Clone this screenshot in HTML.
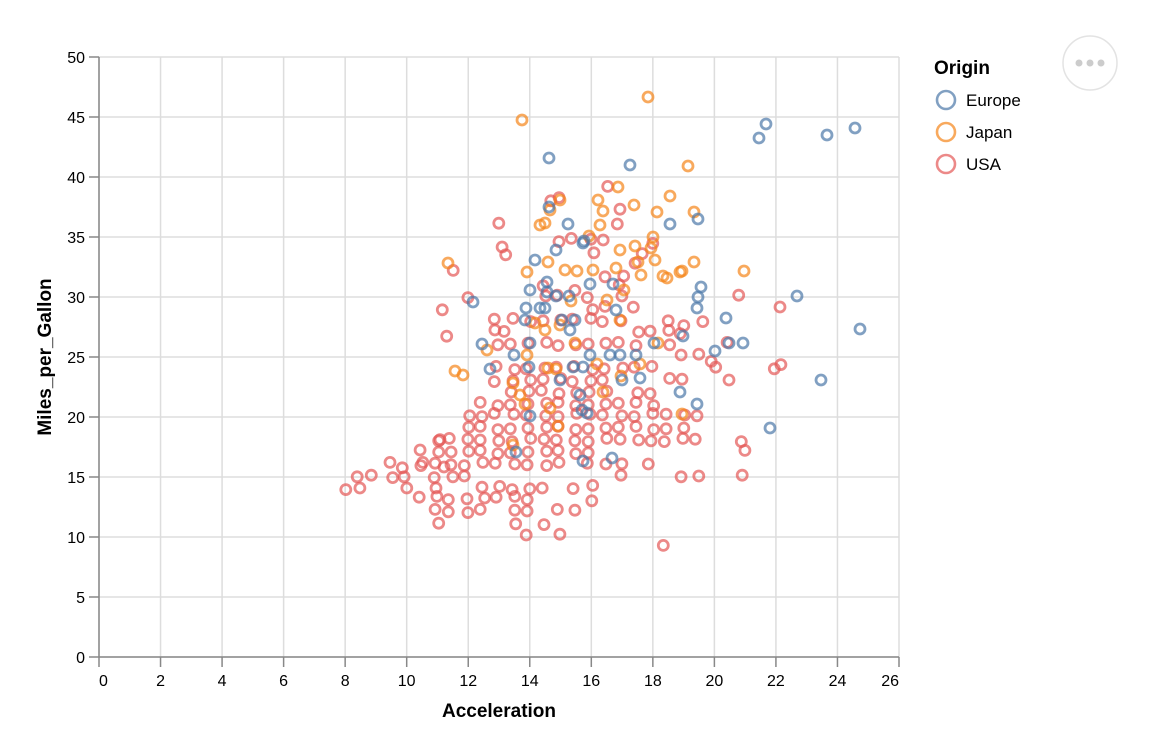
<!DOCTYPE html>
<html><head><meta charset="utf-8"><style>
body{margin:0;background:#fff;width:1150px;height:734px;overflow:hidden;font-family:"Liberation Sans",Arial,sans-serif}
</style></head><body>
<svg id="s" width="1150" height="734" xmlns="http://www.w3.org/2000/svg" font-family="Liberation Sans, Arial, sans-serif">
<rect width="1150" height="734" fill="#fff"/>
<g id="grid" stroke="#ddd" stroke-width="1.5"></g>
<g id="axes"></g>
<g id="pts" fill="none" stroke-width="2.8" stroke-opacity="0.7"></g>
<text x="499" y="717" font-size="19" font-weight="bold" text-anchor="middle">Acceleration</text>
<text transform="translate(51,357) rotate(-90)" font-size="19" font-weight="bold" text-anchor="middle">Miles_per_Gallon</text>
<text x="934" y="74" font-size="19" font-weight="bold">Origin</text>
<circle cx="946" cy="100" r="9" fill="none" stroke="#4c78a8" stroke-width="2.6" stroke-opacity="0.7"/>
<circle cx="946" cy="132" r="9" fill="none" stroke="#f58518" stroke-width="2.6" stroke-opacity="0.7"/>
<circle cx="946" cy="164" r="9" fill="none" stroke="#e45756" stroke-width="2.6" stroke-opacity="0.7"/>
<text x="966" y="106" font-size="17">Europe</text>
<text x="966" y="138" font-size="17">Japan</text>
<text x="966" y="170" font-size="17">USA</text>
<circle cx="1090" cy="63" r="27" fill="#fff" stroke="#e3e3e3" stroke-width="1.5"/>
<circle cx="1079" cy="63" r="3.5" fill="#ccc"/><circle cx="1090" cy="63" r="3.5" fill="#ccc"/><circle cx="1101" cy="63" r="3.5" fill="#ccc"/>
</svg>
<script>
var ns="http://www.w3.org/2000/svg";
function el(p,t,a,txt){var e=document.createElementNS(ns,t);for(var k in a)e.setAttribute(k,a[k]);if(txt!=null)e.textContent=txt;p.appendChild(e);return e;}
var g=document.getElementById("grid"),ax=document.getElementById("axes"),P=document.getElementById("pts");
var X0=99,Y0=657,sx=800/26,sy=12;
for(var i=0;i<=26;i+=2){var x=X0+i*sx;el(g,"line",{x1:x,x2:x,y1:57,y2:657});
 el(ax,"line",{x1:x,x2:x,y1:657,y2:667,stroke:"#888","stroke-width":1.5});
 var an=i==0?"start":(i==26?"end":"middle");
 el(ax,"text",{x:x,y:686,"font-size":16,"text-anchor":an},i);}
for(var j=0;j<=50;j+=5){var y=Y0-j*sy;el(g,"line",{x1:99,x2:899,y1:y,y2:y});
 el(ax,"line",{x1:89,x2:99,y1:y,y2:y,stroke:"#888","stroke-width":1.5});
 el(ax,"text",{x:85,y:y+6,"font-size":16,"text-anchor":"end"},j);}
el(ax,"line",{x1:99,x2:899,y1:657,y2:657,stroke:"#888","stroke-width":1.5});
el(ax,"line",{x1:99,x2:99,y1:57,y2:657,stroke:"#888","stroke-width":1.5});
var eu=[766,124,759,138,827,135,855,128,549,158,630,165,549,207,568,224,698,219,583,243,584,241,670,224,535,260,530,290,547,282,590,284,613,284,701,287,698,297,697,308,526,308,540,308,525,320,545,308,547,292,569,296,473,302,726,318,797,296,860,329,743,343,715,351,729,343,654,343,683,336,482,344,514,355,575,320,562,320,570,330,530,343,590,355,620,355,636,355,610,355,573,367,583,367,529,367,490,369,622,380,640,378,680,392,697,404,580,395,582,410,530,416,560,380,587,413,612,458,583,461,516,452,770,428,821,380,556,296,556,250,616,310];
var jp=[648,97,522,120,688,166,618,187,657,212,694,212,634,205,670,196,560,200,550,210,540,225,545,223,598,200,603,211,589,236,600,225,744,271,680,272,448,263,527,272,548,262,565,270,577,271,593,270,616,268,620,250,635,246,638,262,641,275,655,260,663,276,667,278,682,271,694,262,653,237,651,248,624,290,607,300,620,320,535,323,545,330,560,325,571,301,487,350,455,371,463,375,527,355,597,364,621,376,640,364,682,414,603,392,513,383,525,404,550,408,520,395,513,445,558,426,548,368,556,369,575,343,658,343];
var us=[666,547,559,535,528,535,590,500,574,487,590,487,621,476,651,464,621,463,529,498,513,498,497,498,482,498,467,498,451,498,436,498,421,498,405,488,405,476,390,476,390,464,374,476,359,488,359,476,344,488,436,511,436,524,436,488,451,511,467,511,482,511,513,511,528,511,513,523,544,523,560,511,574,511,544,488,528,488,513,488,497,488,482,488,467,476,452,476,436,476,421,464,436,464,436,452,451,464,467,464,482,464,497,464,513,464,528,464,544,464,559,464,590,464,605,464,590,452,574,452,559,452,544,452,528,452,513,452,497,452,482,452,467,452,452,452,436,440,440,438,452,440,467,440,482,440,497,440,513,440,528,440,544,440,559,440,574,440,590,440,605,440,621,440,636,440,651,440,667,440,682,440,697,440,682,428,667,428,651,428,636,428,621,428,605,428,590,428,574,428,559,428,544,428,528,428,513,428,497,428,482,428,467,428,421,450,467,415,482,415,497,415,513,415,528,415,544,415,559,415,574,415,590,415,605,415,621,415,636,415,651,415,667,415,682,415,697,415,744,440,744,452,744,476,697,476,682,476,651,404,636,404,621,404,605,404,590,404,574,404,559,404,544,404,528,404,513,404,497,404,482,404,605,392,590,392,574,392,559,392,544,392,528,392,513,392,636,392,651,392,667,380,682,380,605,380,590,380,574,380,559,380,544,380,528,380,513,380,497,380,651,368,636,368,621,368,605,368,590,368,574,368,559,368,544,368,528,368,513,368,497,368,713,368,729,380,777,368,780,363,713,363,697,355,682,355,667,344,636,344,621,344,605,344,590,344,574,344,559,344,544,344,528,344,513,344,497,344,682,332,667,332,651,332,636,332,621,320,605,320,590,320,574,320,559,320,544,320,528,320,513,320,497,320,494,330,670,320,701,320,728,344,736,296,780,307,445,309,467,296,455,272,497,224,503,247,503,254,559,240,574,240,590,240,605,240,549,200,560,196,605,188,620,210,620,224,593,252,644,252,651,245,636,264,621,276,605,276,590,296,574,292,559,296,544,296,544,285,590,308,605,308,636,308,621,296,621,284,682,324,505,333,444,337,444,467,405,467,420,464];
function add(a,c,s){for(var i=0;i<a.length;i+=2){var dx=((i*37)%7-3)*0.9*s,dy=((i*53)%5-2)*0.8*s;el(P,"circle",{cx:a[i]+dx,cy:a[i+1]+dy,r:5,stroke:c});}}
add(us,"#e45756",1);add(jp,"#f58518",0);add(eu,"#4c78a8",0);
</script>
</body></html>
